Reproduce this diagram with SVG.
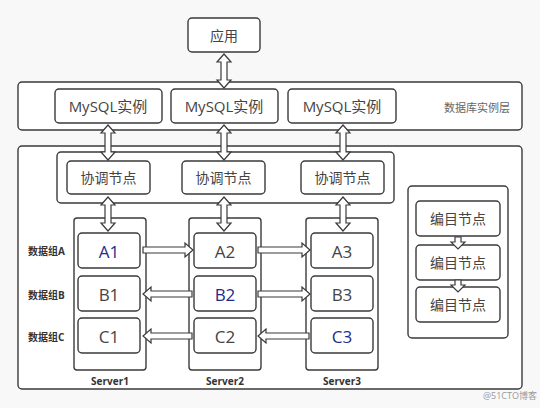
<svg xmlns="http://www.w3.org/2000/svg" width="540" height="408" viewBox="0 0 540 408">
<style>
  .box { fill: #ffffff; stroke: #3a3a3a; stroke-width: 1.4; }
  .grp { fill: #ffffff; stroke: #3a3a3a; stroke-width: 1.4; }
  .t { font-family: "Open Sans", "Noto Sans CJK SC", sans-serif; fill: #444444; text-anchor: middle; dominant-baseline: central; }
  .big { font-size: 15px; }
  .mid { font-size: 14px; }
  .data { font-size: 17px; }
  .hl { fill: #1f2a8a; }
  .lab { font-family: "Open Sans", "Noto Sans CJK SC", sans-serif; font-size: 10px; font-weight: bold; fill: #333333; dominant-baseline: central; }
  .note { font-family: "Open Sans", "Noto Sans CJK SC", sans-serif; font-size: 11px; fill: #666666; dominant-baseline: central; }
  .arr { fill: #ffffff; stroke: #3a3a3a; stroke-width: 1.2; stroke-linejoin: miter; }
</style>
<rect width="540" height="408" fill="#f8f8f8"/>

<g id="app">
  <rect class="box" x="188" y="18" width="72" height="34" rx="4"/>
  <text class="t mid" x="224" y="35">应用</text>
</g>

<g id="db-layer">
  <rect class="grp" x="18" y="82" width="504" height="48" rx="4"/>
  <text class="note" x="444" y="107">数据库实例层</text>
</g>
<g id="mysql1">
  <rect class="box" x="55" y="89" width="107" height="34" rx="4"/>
  <text class="t big" x="108" y="106">MySQL实例</text>
</g>
<g id="mysql2">
  <rect class="box" x="171" y="89" width="107" height="34" rx="4"/>
  <text class="t big" x="224" y="106">MySQL实例</text>
</g>
<g id="mysql3">
  <rect class="box" x="288" y="89" width="108" height="34" rx="4"/>
  <text class="t big" x="342" y="106">MySQL实例</text>
</g>

<g id="cluster">
  <rect class="grp" x="18" y="146" width="504" height="243" rx="4"/>
</g>
<g id="coord-group">
  <rect class="grp" x="57" y="152" width="337" height="51" rx="4"/>
</g>
<g id="coord1">
  <rect class="box" x="67" y="161" width="83" height="33" rx="4"/>
  <text class="t mid" x="108.5" y="177.5">协调节点</text>
</g>
<g id="coord2">
  <rect class="box" x="182" y="161" width="83" height="33" rx="4"/>
  <text class="t mid" x="223.5" y="177.5">协调节点</text>
</g>
<g id="coord3">
  <rect class="box" x="301" y="161" width="83" height="33" rx="4"/>
  <text class="t mid" x="342.5" y="177.5">协调节点</text>
</g>

<g id="server1">
  <rect class="grp" x="74" y="218" width="72" height="152" rx="3"/>
  <text class="lab" x="110" y="381" text-anchor="middle">Server1</text>
</g>
<g id="server2">
  <rect class="grp" x="189" y="218" width="72" height="152" rx="3"/>
  <text class="lab" x="225" y="381" text-anchor="middle">Server2</text>
</g>
<g id="server3">
  <rect class="grp" x="306" y="218" width="72" height="152" rx="3"/>
  <text class="lab" x="342" y="381" text-anchor="middle">Server3</text>
</g>

<g id="labels">
  <text class="lab" x="28" y="251">数据组A</text>
  <text class="lab" x="28" y="295">数据组B</text>
  <text class="lab" x="28" y="337">数据组C</text>
</g>

<g id="A1"><rect class="box" x="78" y="233" width="62" height="35" rx="4"/><text class="t data hl" x="109" y="251">A1</text></g>
<g id="B1"><rect class="box" x="78" y="276" width="62" height="35" rx="4"/><text class="t data" x="109" y="294">B1</text></g>
<g id="C1"><rect class="box" x="78" y="318" width="62" height="35" rx="4"/><text class="t data" x="109" y="336">C1</text></g>
<g id="A2"><rect class="box" x="194" y="233" width="62" height="35" rx="4"/><text class="t data" x="225" y="251">A2</text></g>
<g id="B2"><rect class="box" x="194" y="276" width="62" height="35" rx="4"/><text class="t data hl" x="225" y="294">B2</text></g>
<g id="C2"><rect class="box" x="194" y="318" width="62" height="35" rx="4"/><text class="t data" x="225" y="336">C2</text></g>
<g id="A3"><rect class="box" x="311" y="233" width="62" height="35" rx="4"/><text class="t data" x="342" y="251">A3</text></g>
<g id="B3"><rect class="box" x="311" y="276" width="62" height="35" rx="4"/><text class="t data" x="342" y="294">B3</text></g>
<g id="C3"><rect class="box" x="311" y="318" width="62" height="35" rx="4"/><text class="t data hl" x="342" y="336">C3</text></g>

<g id="catalog-group">
  <rect class="grp" x="408" y="186" width="100" height="152" rx="4"/>
</g>
<g id="cat1"><rect class="box" x="416" y="201" width="84" height="35" rx="4"/><text class="t mid" x="458" y="218.5">编目节点</text></g>
<g id="cat2"><rect class="box" x="416" y="245" width="84" height="35" rx="4"/><text class="t mid" x="458" y="262.5">编目节点</text></g>
<g id="cat3"><rect class="box" x="416" y="287" width="84" height="35" rx="4"/><text class="t mid" x="458" y="304.5">编目节点</text></g>

<g id="connectors">
  <!-- vertical double arrows -->
  <path class="arr" d="M224,54 L231,62 L227,62 L227,80 L231,80 L224,88 L217,80 L221,80 L221,62 L217,62 Z"/>
  <path class="arr" d="M108,125 L115,133 L111,133 L111,152 L115,152 L108,160 L101,152 L105,152 L105,133 L101,133 Z"/>
  <path class="arr" d="M224,125 L231,133 L227,133 L227,152 L231,152 L224,160 L217,152 L221,152 L221,133 L217,133 Z"/>
  <path class="arr" d="M343,125 L350,133 L346,133 L346,152 L350,152 L343,160 L336,152 L340,152 L340,133 L336,133 Z"/>
  <path class="arr" d="M108,197 L115,205 L111,205 L111,223 L115,223 L108,231 L101,223 L105,223 L105,205 L101,205 Z"/>
  <path class="arr" d="M224,197 L231,205 L227,205 L227,223 L231,223 L224,231 L217,223 L221,223 L221,205 L217,205 Z"/>
  <path class="arr" d="M343,197 L350,205 L346,205 L346,223 L350,223 L343,231 L336,223 L340,223 L340,205 L336,205 Z"/>
  <!-- row A -->
  <path class="arr" d="M143,247 L185,247 L185,243 L193,250 L185,257 L185,253 L143,253 Z"/>
  <path class="arr" d="M258,247 L302,247 L302,243 L310,250 L302,257 L302,253 L258,253 Z"/>
  <!-- row B -->
  <path class="arr" d="M192,291 L151,291 L151,287 L143,294 L151,301 L151,297 L192,297 Z"/>
  <path class="arr" d="M258,291 L302,291 L302,287 L310,294 L302,301 L302,297 L258,297 Z"/>
  <!-- row C -->
  <path class="arr" d="M192,333 L151,333 L151,329 L143,336 L151,343 L151,339 L192,339 Z"/>
  <path class="arr" d="M309,333 L266,333 L266,329 L258,336 L266,343 L266,339 L309,339 Z"/>
  <!-- catalog down arrows -->
  <path class="arr" d="M455,237 L461,237 L461,242 L465,242 L458,249 L451,242 L455,242 Z"/>
  <path class="arr" d="M455,280 L461,280 L461,285 L465,285 L458,292 L451,285 L455,285 Z"/>
</g>

<text x="537" y="399" text-anchor="end" font-family="'Open Sans', 'Noto Sans CJK SC', sans-serif" font-size="9" fill="#999999">@51CTO博客</text>
</svg>
